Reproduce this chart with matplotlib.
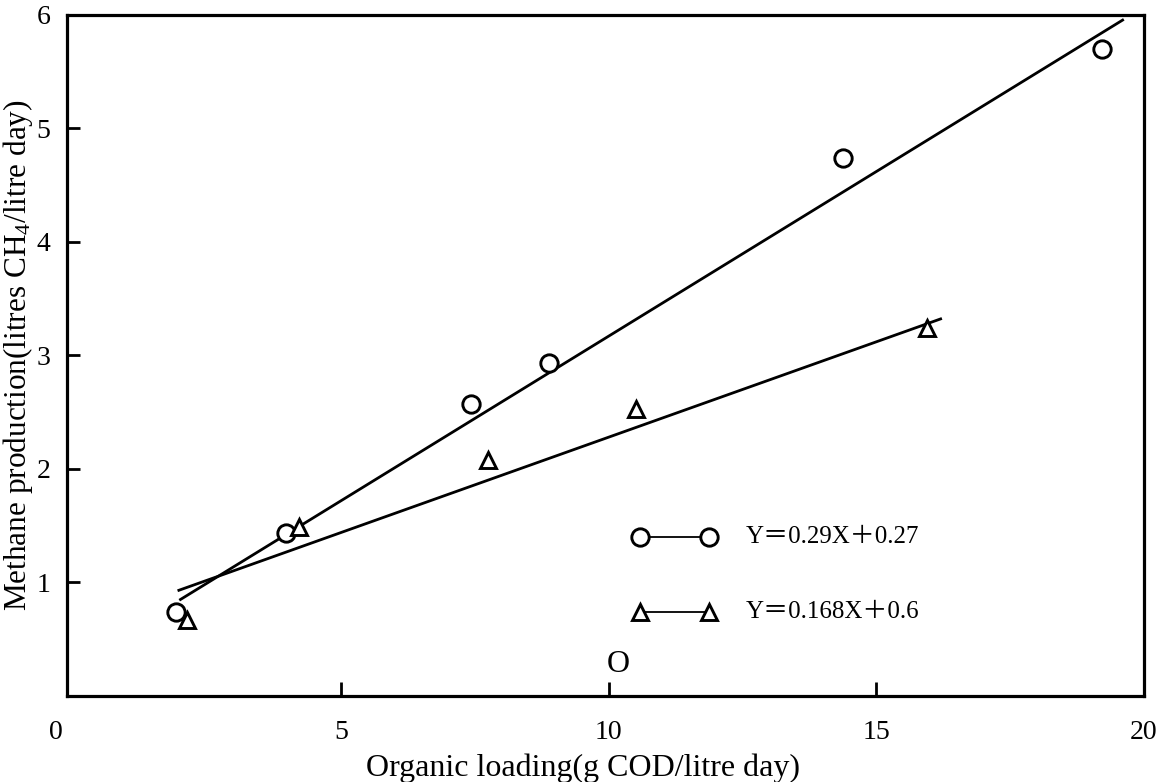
import matplotlib
matplotlib.use("Agg")
import matplotlib.pyplot as plt
import numpy as np

plt.rcParams['font.family'] = ['Liberation Serif', 'DejaVu Serif']
plt.rcParams['mathtext.fontset'] = 'custom'
plt.rcParams['mathtext.rm'] = 'Liberation Serif'
plt.rcParams['mathtext.it'] = 'Liberation Serif:italic'

# Data
circle_x = [1.92, 3.97, 7.42, 8.89, 14.37, 19.22]
circle_y = [0.74, 1.44, 2.57, 2.93, 4.74, 5.70]
triangle_x = [2.12, 4.21, 7.74, 10.51, 15.94]
triangle_y = [0.67, 1.49, 2.08, 2.53, 3.24]
stray_x, stray_y = 10.18, 0.28

circle_fit = (0.29, 0.27)      # slope, intercept
circle_fit_range = (2.0, 19.6)
triangle_fit = (0.168, 0.6)
triangle_fit_range = (1.97, 16.2)

circle_label = "Y＝0.29X＋0.27"
triangle_label = "Y＝0.168X＋0.6"
x_ticks = [5, 10, 15, 20]
y_ticks = [1, 2, 3, 4, 5, 6]
x_label = "Organic loading(g COD/litre day)"
y_label = "Methane production(litres CH$_4$/litre day)"

fig = plt.figure(figsize=(11.65, 7.82), dpi=100)
ax = fig.add_axes([0.0575, 0.110, 0.9245, 0.871])
ax.set_xlim(-0.12, 20)
ax.set_ylim(0, 5.97)

lw = 2.0
for sp in ax.spines.values():
    sp.set_linewidth(2.3)

# fit lines
for (m, b), (x0, x1) in [(circle_fit, circle_fit_range), (triangle_fit, triangle_fit_range)]:
    xs = np.array([x0, x1])
    ax.plot(xs, m * xs + b, color='black', lw=lw, clip_on=True)

ax.plot(circle_x, circle_y, linestyle='none', marker='o', ms=12.5, mfc='white',
        mec='black', mew=2.1)
ax.plot(triangle_x, triangle_y, linestyle='none', marker='^', ms=11, mfc='white',
        mec='black', mew=2.1)
ax.text(stray_x, stray_y, "O", ha='center', va='center', fontsize=23)

# legend drawn manually
for yy, mk, lab in [(0.233, 'o', circle_label), (0.123, '^', triangle_label)]:
    ax.plot([0.532, 0.596], [yy, yy], transform=ax.transAxes, color='black',
            lw=1.3, marker=mk, ms=12.5 if mk == 'o' else 11, mfc='white',
            mec='black', mew=2.1)
    ax.text(0.630, yy, lab, transform=ax.transAxes, ha='left', va='center',
            fontsize=18, family=['Liberation Serif', 'Noto Sans CJK JP', 'DejaVu Sans'])

ax.set_xticks(x_ticks)
ax.set_yticks(y_ticks)
ax.tick_params(axis='x', direction='in', length=10, width=2, labelsize=20, pad=17)
ax.tick_params(axis='y', direction='in', length=9, width=2, labelsize=20, pad=12)
ax.text(-0.010, -0.035, "0", transform=ax.transAxes, ha='center', va='top', fontsize=20)

ax.set_xlabel(x_label, fontsize=23)
ax.xaxis.set_label_coords(0.479, -0.085)
ax.set_ylabel(y_label, fontsize=22.5)
ax.yaxis.set_label_coords(-0.030, 0.5)

fig.savefig("out.png", dpi=100)
